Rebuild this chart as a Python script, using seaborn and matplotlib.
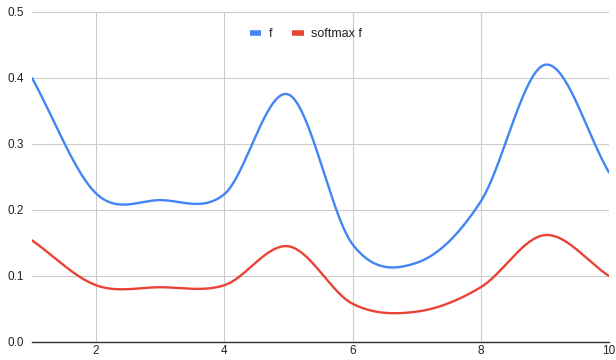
"""Smoothed line chart: f and softmax f"""
import matplotlib
matplotlib.use('Agg')
import matplotlib.pyplot as plt
import numpy as np
import pandas as pd
import seaborn as sns

# values
x_values = [1, 2, 3, 4, 5, 6, 7, 8, 9, 10]
f_values = [0.400, 0.225, 0.215, 0.224, 0.375, 0.148, 0.120, 0.213, 0.420, 0.257]
softmax_values = [0.154, 0.086, 0.083, 0.086, 0.145, 0.058, 0.046, 0.083, 0.162, 0.100]
y_ticks = [0.0, 0.1, 0.2, 0.3, 0.4, 0.5]
x_ticks = [2, 4, 6, 8, 10]

BLUE = '#4285F4'
RED = '#EA4335'


# Catmull-Rom style smoothing, like the "smooth" curve option of the source chart
def smooth(xs, ys, steps=40):
    xs = np.asarray(xs, dtype=float)
    ys = np.asarray(ys, dtype=float)
    n = len(ys)
    tang = np.empty(n)
    tang[1:-1] = (ys[2:] - ys[:-2]) / 2.0
    tang[0] = ys[1] - ys[0]
    tang[-1] = ys[-1] - ys[-2]
    out_x, out_y = [], []
    for i in range(n - 1):
        t = np.linspace(0, 1, steps, endpoint=(i == n - 2))
        h00 = 2 * t**3 - 3 * t**2 + 1
        h10 = t**3 - 2 * t**2 + t
        h01 = -2 * t**3 + 3 * t**2
        h11 = t**3 - t**2
        out_y.append(h00 * ys[i] + h10 * tang[i] + h01 * ys[i + 1] + h11 * tang[i + 1])
        out_x.append(xs[i] + t * (xs[i + 1] - xs[i]))
    return np.concatenate(out_x), np.concatenate(out_y)


sns.set_style('white')
plt.rcParams['font.family'] = ['Liberation Sans', 'DejaVu Sans']

fig = plt.figure(figsize=(6.16, 3.6), dpi=100)
ax = fig.add_axes([32 / 616, 18 / 360, 577 / 616, 330 / 360])

frames = []
for name, vals in (('f', f_values), ('softmax f', softmax_values)):
    sx, sy = smooth(x_values, vals)
    frames.append(pd.DataFrame({'x': sx, 'y': sy, 'series': name}))
df = pd.concat(frames, ignore_index=True)

sns.lineplot(data=df, x='x', y='y', hue='series', palette=[BLUE, RED],
             linewidth=1.7, ax=ax, sort=False)

ax.set_xlim(1, 10)
ax.set_ylim(0, 0.5)
ax.set_xticks(x_ticks)
ax.set_yticks(y_ticks)
ax.set_yticklabels([f'{v:.1f}' for v in y_ticks])
ax.set_xlabel('')
ax.set_ylabel('')
ax.grid(True, color='#cccccc', linewidth=0.8)
ax.set_axisbelow(True)
for side in ('left', 'right', 'top'):
    ax.spines[side].set_visible(False)
ax.spines['bottom'].set_color('#333333')
ax.spines['bottom'].set_linewidth(1.0)
ax.tick_params(axis='both', length=0, labelsize=8.5, colors='#222222')
ax.tick_params(axis='y', pad=6)
ax.tick_params(axis='x', pad=2.5)

leg = ax.legend(loc='upper center', bbox_to_anchor=(0.475, 0.985), ncol=2,
                frameon=False, handlelength=0.9, handletextpad=0.6,
                columnspacing=1.6, fontsize=9)
for line in leg.get_lines():
    line.set_linewidth(4)
    line.set_solid_capstyle('butt')
for text in leg.get_texts():
    text.set_color('#222222')

fig.savefig('out.png', dpi=100)
